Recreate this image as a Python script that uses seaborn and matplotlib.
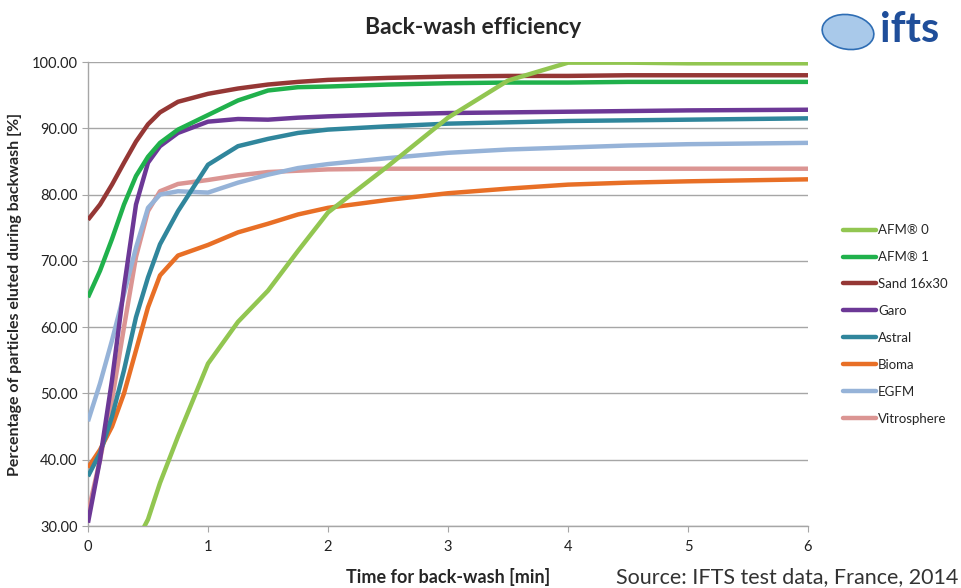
import numpy as np
import pandas as pd
import matplotlib.pyplot as plt
from matplotlib.patches import Ellipse
import seaborn as sns

# Zeitpunkte (min) und Werte (%)
time_min = [0, 0.1, 0.2, 0.3, 0.4, 0.5, 0.6, 0.75, 1, 1.25, 1.5, 1.75, 2, 2.5, 3, 3.5, 4, 4.5, 5, 6]

afm0 = [np.nan, np.nan, np.nan, np.nan, 27.5, 31.0, 36.5, 43.5, 54.5, 60.8, 65.5, 71.5, 77.3, 84.3, 91.6, 97.2, 99.9, 99.9, 99.8, 99.8]
afm1 = [64.5, 68.5, 73.3, 78.5, 82.8, 85.7, 87.8, 89.8, 92.0, 94.2, 95.7, 96.2, 96.3, 96.6, 96.8, 96.9, 96.9, 97.0, 97.0, 97.0]
sand = [76.2, 78.5, 81.5, 84.8, 88.0, 90.6, 92.4, 94.0, 95.2, 96.0, 96.6, 97.0, 97.3, 97.6, 97.8, 97.9, 97.9, 98.0, 98.0, 98.0]
garo = [30.5, 40.0, 52.0, 66.0, 78.5, 84.8, 87.3, 89.3, 91.0, 91.4, 91.3, 91.6, 91.8, 92.1, 92.3, 92.4, 92.5, 92.6, 92.7, 92.8]
astral = [37.5, 41.0, 46.5, 53.5, 61.5, 67.5, 72.5, 77.5, 84.5, 87.3, 88.4, 89.3, 89.8, 90.3, 90.7, 90.9, 91.1, 91.2, 91.3, 91.5]
bioma = [38.8, 41.5, 45.0, 50.0, 56.5, 63.0, 67.8, 70.8, 72.4, 74.3, 75.6, 77.0, 78.0, 79.2, 80.2, 80.9, 81.5, 81.8, 82.0, 82.3]
egfm = [45.8, 51.5, 58.0, 65.0, 72.0, 78.0, 80.0, 80.5, 80.3, 81.8, 83.0, 84.0, 84.6, 85.5, 86.3, 86.8, 87.1, 87.4, 87.6, 87.8]
vitro = [32.0, 40.0, 49.0, 60.0, 70.6, 77.5, 80.5, 81.6, 82.2, 82.9, 83.4, 83.6, 83.8, 83.9, 83.9, 83.9, 83.9, 83.9, 83.9, 83.9]

names = ['AFM® 0', 'AFM® 1', 'Sand 16x30', 'Garo', 'Astral', 'Bioma', 'EGFM', 'Vitrosphere']
series = [afm0, afm1, sand, garo, astral, bioma, egfm, vitro]
colors = ['#92C651', '#20B14C', '#953735', '#6C3896', '#30869C', '#E86F26', '#96B3D8', '#DB9593']

sns.set_style('white')
plt.rcParams['font.family'] = ['Lato', 'DejaVu Sans']

fig = plt.figure(figsize=(9.61, 5.88), dpi=100)
ax = fig.add_axes([88 / 961, 1 - 526 / 588, 720 / 961, 464 / 588])

handles = []
for i in range(len(names) - 1, -1, -1):
    df = pd.DataFrame({'t': time_min, 'v': series[i]})
    sns.lineplot(data=df, x='t', y='v', ax=ax, color=colors[i], linewidth=3.2,
                 solid_capstyle='butt', solid_joinstyle='round', zorder=10 - i)

for name, c in zip(names, colors):
    h, = ax.plot([], [], color=c, linewidth=3.2, label=name, solid_capstyle='round')
    handles.append(h)

ax.set_xlim(0, 6)
ax.set_ylim(30, 100)
ax.set_yticks(range(30, 101, 10))
ax.set_yticklabels([f'{v:.2f}' for v in range(30, 101, 10)])
ax.set_xticks(range(0, 7))
ax.grid(axis='y', color='#A6A6A6', linewidth=1)
ax.set_axisbelow(True)
for s in ['top', 'right']:
    ax.spines[s].set_visible(False)
for s in ['left', 'bottom']:
    ax.spines[s].set_color('#A6A6A6')
    ax.spines[s].set_linewidth(1)
ax.tick_params(axis='both', labelsize=10.5, colors='#A6A6A6', labelcolor='#222222',
               length=4, direction='out', left=True, bottom=True)
ax.tick_params(axis='x', pad=6)

ax.set_xlabel('Time for back-wash [min]', fontsize=13, fontweight='bold', labelpad=10)
ax.set_ylabel('Percentage of particles eluted during backwash [%]', fontsize=11.5,
              fontweight='bold', labelpad=7)

fig.text(473 / 961, 1 - 28 / 588, 'Back-wash efficiency', ha='center', va='center',
         fontsize=16.5, fontweight='bold')

fig.legend(handles=handles, loc='upper left', bbox_to_anchor=(838 / 961, 1 - 219 / 588),
           frameon=False, fontsize=9.5, handlelength=2.5, handletextpad=0.15,
           labelspacing=1.13, borderaxespad=0)

fig.text(958 / 961, 1 - 577 / 588, 'Source: IFTS test data, France, 2014', ha='right',
         va='center', fontsize=15.5, color='#333333')

# Logo (vereinfacht)
fig.patches.append(Ellipse((848 / 961, 1 - 32 / 588), 50 / 961, 36 / 588, angle=25,
                           transform=fig.transFigure, facecolor='#A9C9EA',
                           edgecolor='#2E6DB4', linewidth=1.2, zorder=1))
fig.text(910 / 961, 1 - 30 / 588, 'ifts', ha='center', va='center', fontsize=30,
         fontweight='bold', color='#1F4E9A', zorder=2)

plt.savefig('out.png', dpi=100)
